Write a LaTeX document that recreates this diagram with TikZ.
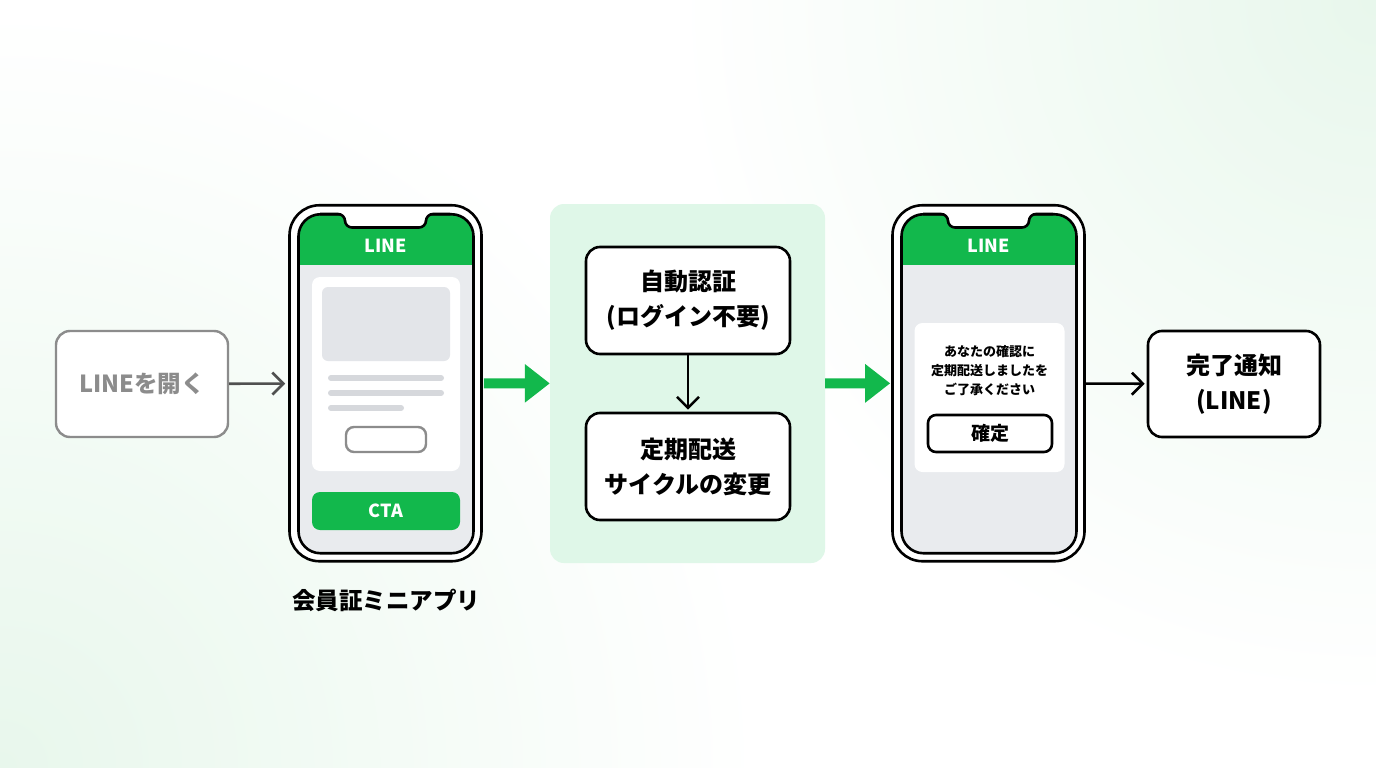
\documentclass[tikz,border=0pt]{standalone}
\usepackage{fontspec}
\setmainfont{Noto Sans CJK JP}
\usetikzlibrary{arrows.meta, positioning}
\definecolor{linegreen}{HTML}{12B84C}
\definecolor{mint}{HTML}{DFF7E8}
\definecolor{haze}{HTML}{E8F7EC}
\definecolor{screengray}{HTML}{E9EBEE}
\definecolor{blockgray}{HTML}{E3E5E9}
\definecolor{rulegray}{HTML}{D6D8DC}
\definecolor{startgray}{HTML}{8C8C8C}
\definecolor{arrowgray}{HTML}{505050}

\tikzset{
  startbox/.style={draw=startgray, line width=2.4pt, rounded corners=14pt, fill=white,
    minimum width=172pt, minimum height=106pt, text=startgray,
    font=\bfseries\fontsize{23.5}{30}\selectfont},
  stepbox/.style={draw=black, line width=2.6pt, rounded corners=14pt, fill=white,
    minimum width=204pt, minimum height=107pt, align=center,
    font=\bfseries\fontsize{24}{35}\selectfont},
  phone/.style={draw=black, fill=white, line width=2.6pt, rounded corners=30pt,
    minimum width=192pt, minimum height=356pt},
  screen/.style={draw=black, fill=screengray, line width=2.6pt, rounded corners=22pt,
    minimum width=175pt, minimum height=339pt,
    path picture={\fill[linegreen, sharp corners] (path picture bounding box.north west)
      rectangle ([yshift=-51pt]path picture bounding box.north east);}},
  card/.style={fill=white, rounded corners=8pt, inner sep=0pt},
  headtext/.style={text=white, font=\bfseries\fontsize{18}{20}\selectfont},
  flowarrow/.style={line width=2.6pt, -{Straight Barb[length=11pt, width=22pt]}},
  bigarrow/.style={linegreen, line width=10pt, -{Triangle[length=25pt, width=37pt]}}
}

\begin{document}
\begin{tikzpicture}[x=1pt, y=-1pt]
  % background
  \fill[white] (0,0) rectangle (1376,768);
  \begin{scope}
    \clip (0,0) rectangle (1376,768);
    \shade[inner color=haze, outer color=white] (0,768) circle (760pt);
    \shade[inner color=haze, outer color=white] (1376,0) circle (700pt);
  \end{scope}
  \useasboundingbox (0,0) rectangle (1376,768);

  % start
  \node[startbox] (start) at (142,384) {LINEを開く};

  % mini app phone
  \node[phone] (app) at (385.5,383.25) {};
  \node[screen] (appscr) at (386,383.75) {};
  \fill[white] (320,211) -- (450,211) -- (450,214) -- (320,214) -- cycle;
  \fill[white, rounded corners=7pt] (320,214) -- (345,214) -- (345,227.5) -- (426,227.5) -- (426,214) -- (450,214) -- cycle;
  \draw[line width=2.6pt, rounded corners=7pt] (320,214) -- (345,214) -- (345,227.5) -- (426,227.5) -- (426,214) -- (450,214);
  \node[headtext] (apphead) at (386,246) {LINE};
  \node[card, minimum width=148pt, minimum height=194pt] (card) at (386,374) {};
  \node[fill=blockgray, rounded corners=6pt, minimum width=128pt, minimum height=74pt] (img) at (386,324) {};
  \draw[rulegray, line width=6pt, line cap=round] (331,378) -- (441,378);
  \draw[rulegray, line width=6pt, line cap=round] (331,393) -- (441,393);
  \draw[rulegray, line width=6pt, line cap=round] (331,408) -- (401,408);
  \node[draw=startgray, line width=2.4pt, fill=white, rounded corners=8pt, minimum width=80pt, minimum height=25pt] (btn) at (386,439.5) {};
  \node[fill=linegreen, rounded corners=8pt, minimum width=148pt, minimum height=38pt, headtext] (cta) at (386,511) {CTA};
  \node[font=\bfseries\fontsize{23.5}{26}\selectfont] (applabel) at (386,600) {会員証ミニアプリ};

  % authentication panel
  \node[fill=mint, rounded corners=14pt, minimum width=275pt, minimum height=359pt] (panel) at (687.5,383.5) {};
  \node[stepbox] (auth) at (688,300.5) {自動認証\\(ログイン不要)};
  \node[stepbox] (cycle) at (688,466.5) {定期配送\\サイクルの変更};

  % confirmation phone
  \node[phone] (confirm) at (988.5,383.25) {};
  \node[screen] (confscr) at (989,383.75) {};
  \fill[white] (923,211) -- (1053,211) -- (1053,214) -- (923,214) -- cycle;
  \fill[white, rounded corners=7pt] (923,214) -- (948,214) -- (948,227.5) -- (1029,227.5) -- (1029,214) -- (1053,214) -- cycle;
  \draw[line width=2.6pt, rounded corners=7pt] (923,214) -- (948,214) -- (948,227.5) -- (1029,227.5) -- (1029,214) -- (1053,214);
  \node[headtext] (confhead) at (989,246) {LINE};
  \node[card, minimum width=150pt, minimum height=149pt] (dialog) at (989.5,397.5) {};
  \node[align=center, font=\bfseries\fontsize{13}{19}\selectfont] (msg) at (989.5,371) {あなたの確認に\\定期配送しましたを\\ご了承ください};
  \node[draw=black, line width=2.6pt, fill=white, rounded corners=8pt, minimum width=124pt, minimum height=37pt, font=\bfseries\fontsize{19}{22}\selectfont] (ok) at (990,433.5) {確定};

  % done
  \node[stepbox, minimum width=172pt, minimum height=106pt] (done) at (1234,384) {完了通知\\(LINE)};

  % connectors
  \draw[flowarrow, arrowgray, shorten >=3pt] (start) -- (app);
  \draw[bigarrow, shorten <=1pt] (app) -- (panel);
  \draw[bigarrow, shorten >=1pt] (panel) -- (confirm);
  \draw[flowarrow, shorten >=2pt] (auth) -- (cycle);
  \draw[flowarrow, shorten >=2pt] (confirm) -- (done);
\end{tikzpicture}
\end{document}
